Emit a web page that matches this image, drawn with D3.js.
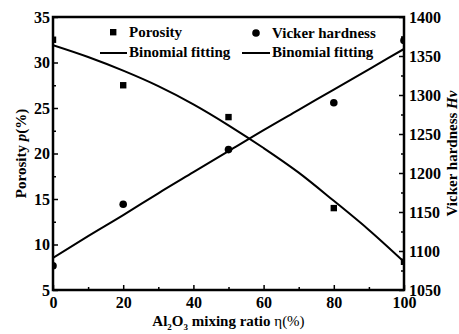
<!DOCTYPE html>
<html>
<head>
<meta charset="utf-8">
<script src="https://cdn.jsdelivr.net/npm/d3@7"></script>
<style>
  body { margin: 0; background: #fff; }
  svg text { font-family: "Liberation Serif", "Times New Roman", serif; font-weight: bold; fill: #000; }
</style>
</head>
<body>
<svg width="459" height="334"></svg>
<script>
// measured data
const ratio = [0, 20, 50, 80, 100];
const porosity = [32.5, 27.5, 24.0, 14.0, 8.1];
const hardness = [1081, 1160, 1230, 1290, 1370];

// fitted curves
const fitX = [0, 10, 20, 30, 40, 50, 60, 70, 80, 90, 100];
const porosityFit = [31.9, 30.6, 29.1, 27.4, 25.4, 23.1, 20.6, 17.9, 14.8, 11.6, 8.1];
const hardnessFit = [1091, 1119, 1146, 1174, 1201, 1228, 1255, 1281, 1307, 1333, 1359];

const xTicks = [0, 20, 40, 60, 80, 100];
const leftTicks = [5, 10, 15, 20, 25, 30, 35];
const rightTicks = [1050, 1100, 1150, 1200, 1250, 1300, 1350, 1400];

const svg = d3.select('svg');
const x0 = 53, x1 = 404, y0 = 17, y1 = 290;

const x = d3.scaleLinear().domain([0, 100]).range([x0, x1]);
const yL = d3.scaleLinear().domain([5, 35]).range([y1, y0]);
const yR = d3.scaleLinear().domain([1050, 1400]).range([y1, y0]);

svg.append('clipPath').attr('id', 'clip')
  .append('rect').attr('x', x0).attr('y', y0)
  .attr('width', x1 - x0).attr('height', y1 - y0);

const plot = svg.append('g').attr('clip-path', 'url(#clip)');

const line = d3.line().curve(d3.curveMonotoneX);

plot.append('path')
  .attr('d', line(fitX.map((v, i) => [x(v), yL(porosityFit[i])])))
  .attr('fill', 'none').attr('stroke', '#000').attr('stroke-width', 2);

plot.append('path')
  .attr('d', line(fitX.map((v, i) => [x(v), yR(hardnessFit[i])])))
  .attr('fill', 'none').attr('stroke', '#000').attr('stroke-width', 2);

plot.selectAll('.sq').data(ratio).enter().append('rect')
  .attr('x', (d) => x(d) - 3.2)
  .attr('y', (d, i) => yL(porosity[i]) - 3.2)
  .attr('width', 6.4).attr('height', 6.4)
  .attr('fill', '#000');

plot.selectAll('.dot').data(ratio).enter().append('circle')
  .attr('cx', (d) => x(d))
  .attr('cy', (d, i) => yR(hardness[i]))
  .attr('r', 3.8)
  .attr('fill', '#000');

// axes, ticks inward
const tickFont = '16px';
const fontSize = '15px';
const styleAxis = (g) => {
  g.select('.domain').remove();
  g.selectAll('.tick line').attr('stroke', '#000').attr('stroke-width', 1.5);
  g.selectAll('.tick text').style('font-size', tickFont).attr('fill', '#000');
};

svg.append('g').attr('transform', `translate(0,${y1})`)
  .call(d3.axisBottom(x).tickValues(d3.range(0, 101, 10)).tickSize(-5).tickPadding(7)
    .tickFormat((d) => xTicks.includes(d) ? d : ''))
  .call(styleAxis)
  .call((g) => g.selectAll('.tick line').attr('y2', (d) => xTicks.includes(d) ? -5 : -3));

svg.append('g').attr('transform', `translate(${x0},0)`)
  .call(d3.axisLeft(yL).tickValues(d3.range(5, 35.1, 2.5)).tickSize(-5).tickPadding(3)
    .tickFormat((d) => leftTicks.includes(d) ? d : ''))
  .call(styleAxis)
  .call((g) => g.selectAll('.tick line').attr('x2', (d) => leftTicks.includes(d) ? 5 : 3));

svg.append('g').attr('transform', `translate(${x1},0)`)
  .call(d3.axisRight(yR).tickValues(d3.range(1050, 1401, 25)).tickSize(-5).tickPadding(5)
    .tickFormat((d) => rightTicks.includes(d) ? d : ''))
  .call(styleAxis)
  .call((g) => g.selectAll('.tick line').attr('x2', (d) => rightTicks.includes(d) ? -5 : -3));

svg.append('rect')
  .attr('x', x0).attr('y', y0)
  .attr('width', x1 - x0).attr('height', y1 - y0)
  .attr('fill', 'none').attr('stroke', '#000').attr('stroke-width', 2.5);

// legend
const legend = svg.append('g').style('font-size', fontSize);
legend.append('rect').attr('x', 110).attr('y', 29).attr('width', 6.4).attr('height', 6.4);
legend.append('text').attr('x', 129).attr('y', 37).text('Porosity');
legend.append('line').attr('x1', 100).attr('x2', 127).attr('y1', 53).attr('y2', 53)
  .attr('stroke', '#000').attr('stroke-width', 2);
legend.append('text').attr('x', 129).attr('y', 57).text('Binomial fitting');

legend.append('circle').attr('cx', 256).attr('cy', 33).attr('r', 3.8);
legend.append('text').attr('x', 272).attr('y', 38).text('Vicker hardness');
legend.append('line').attr('x1', 242).attr('x2', 270).attr('y1', 53).attr('y2', 53)
  .attr('stroke', '#000').attr('stroke-width', 2);
legend.append('text').attr('x', 272).attr('y', 57).text('Binomial fitting');

// axis titles
const xt = svg.append('text')
  .attr('x', (x0 + x1) / 2).attr('y', 326)
  .attr('text-anchor', 'middle').style('font-size', fontSize);
xt.append('tspan').text('Al');
xt.append('tspan').attr('dy', 4).style('font-size', '9px').text('2');
xt.append('tspan').attr('dy', -4).text('O');
xt.append('tspan').attr('dy', 4).style('font-size', '9px').text('3');
xt.append('tspan').attr('dy', -4).text(' mixing ratio ');
xt.append('tspan').style('font-weight', 'normal').text('η(%)');

const yt = svg.append('text')
  .attr('transform', `translate(26,${(y0 + y1) / 2}) rotate(-90)`)
  .attr('text-anchor', 'middle').style('font-size', fontSize);
yt.append('tspan').text('Porosity ');
yt.append('tspan').style('font-style', 'italic').text('p');
yt.append('tspan').text('(%)');

const rt = svg.append('text')
  .attr('transform', `translate(457,${(y0 + y1) / 2}) rotate(-90)`)
  .attr('text-anchor', 'middle').style('font-size', fontSize);
rt.append('tspan').text('Vicker hardness ');
rt.append('tspan').style('font-style', 'italic').text('Hv');
</script>
</body>
</html>
